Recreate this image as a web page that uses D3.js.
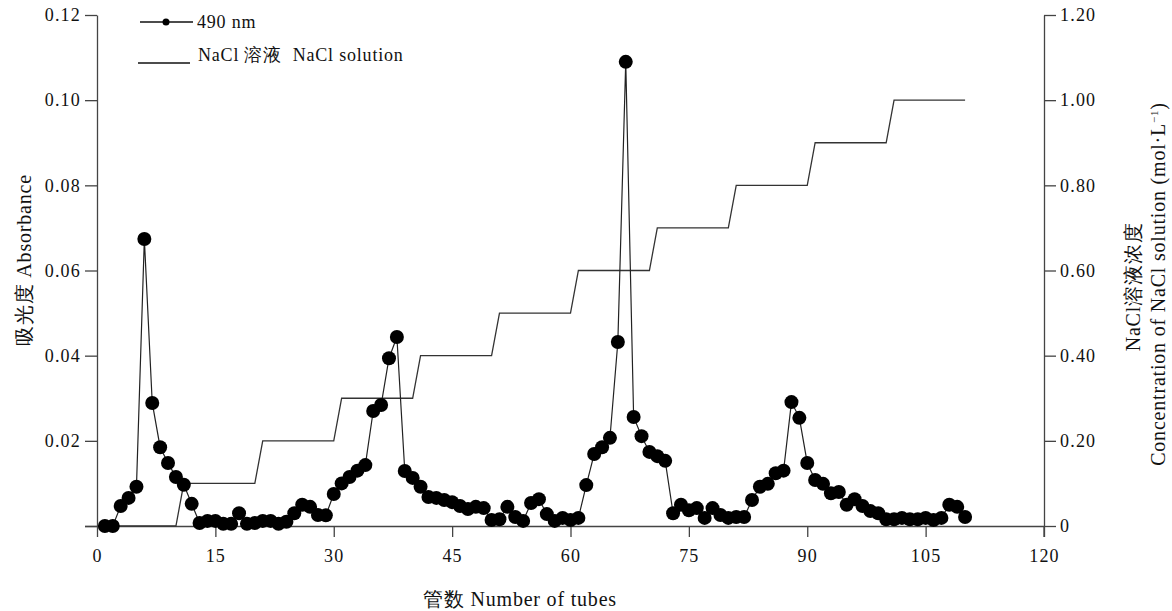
<!DOCTYPE html>
<html>
<head>
<meta charset="utf-8">
<script src="https://cdn.jsdelivr.net/npm/d3@7"></script>
<style>
  body { margin: 0; background: #fff; }
  svg { display: block; }
  svg text { font-family: "Liberation Serif", "Times New Roman", Times, "DejaVu Serif", serif; }
  .axis path, .axis line { stroke: #444; stroke-width: 1.3; }
  .axis text { font-size: 18px; fill: #111; letter-spacing: 1.2px; }
  .label { font-size: 20px; fill: #111; letter-spacing: 0.8px; }
</style>
</head>
<body>
<svg id="chart" width="1172" height="611"></svg>
<script>
// Absorbance at 490 nm, tubes 1..110
const tubes = d3.range(1, 111);
const absorbance = [
  0.0000, 0.0000, 0.0047, 0.0066, 0.0092, 0.0674, 0.0289, 0.0185, 0.0148, 0.0115,
  0.0097, 0.0052, 0.0007, 0.0012, 0.0012, 0.0005, 0.0005, 0.0030, 0.0005, 0.0007,
  0.0012, 0.0012, 0.0005, 0.0010, 0.0030, 0.0050, 0.0045, 0.0026, 0.0025, 0.0075,
  0.0100, 0.0115, 0.0130, 0.0143, 0.0270, 0.0284, 0.0394, 0.0444, 0.0129, 0.0113,
  0.0092, 0.0068, 0.0066, 0.0061, 0.0056, 0.0047, 0.0040, 0.0045, 0.0042, 0.0014,
  0.0016, 0.0045, 0.0021, 0.0012, 0.0054, 0.0063, 0.0028, 0.0012, 0.0019, 0.0014,
  0.0019, 0.0096, 0.0169, 0.0185, 0.0207, 0.0432, 0.1090, 0.0256, 0.0211, 0.0174,
  0.0164, 0.0153, 0.0030, 0.0050, 0.0037, 0.0042, 0.0019, 0.0042, 0.0026, 0.0019,
  0.0021, 0.0021, 0.0061, 0.0092, 0.0099, 0.0124, 0.0130, 0.0291, 0.0254, 0.0148,
  0.0108, 0.0099, 0.0077, 0.0080, 0.0050, 0.0063, 0.0047, 0.0035, 0.0030, 0.0016,
  0.0016, 0.0019, 0.0016, 0.0016, 0.0019, 0.0014, 0.0019, 0.0050, 0.0045, 0.0021
];

// NaCl gradient (step), tube number vs mol/L
const naclTubes = [1, 10, 11, 20, 21, 30, 31, 40, 41, 50, 51, 60, 61, 70, 71, 80, 81, 90, 91, 100, 101, 110];
const naclConc  = [0, 0, 0.1, 0.1, 0.2, 0.2, 0.3, 0.3, 0.4, 0.4, 0.5, 0.5, 0.6, 0.6, 0.7, 0.7, 0.8, 0.8, 0.9, 0.9, 1.0, 1.0];

const xTicks = [0, 15, 30, 45, 60, 75, 90, 105, 120];
const yLeftTicks = [0, 0.02, 0.04, 0.06, 0.08, 0.10, 0.12];
const yRightTicks = [0, 0.2, 0.4, 0.6, 0.8, 1.0, 1.2];

const svg = d3.select('#chart');
const plotLeft = 97, plotRight = 1044, plotTop = 15, plotBottom = 526;

const x = d3.scaleLinear().domain([0, 120]).range([plotLeft, plotRight]);
const y = d3.scaleLinear().domain([0, 0.12]).range([plotBottom, plotTop]);
const y2 = d3.scaleLinear().domain([0, 1.2]).range([plotBottom, plotTop]);

// axes
svg.append('g')
  .attr('class', 'axis')
  .attr('transform', `translate(0,${plotBottom})`)
  .call(d3.axisBottom(x).tickValues(xTicks).tickSize(11).tickSizeOuter(0).tickPadding(12))
  .call(g => g.select('.domain').attr('d', `M${plotLeft - 12},0.5H${plotRight}`));

svg.append('g')
  .attr('class', 'axis')
  .attr('transform', `translate(${plotLeft},0)`)
  .call(d3.axisLeft(y).tickValues(yLeftTicks).tickSize(12).tickSizeOuter(0).tickPadding(4)
    .tickFormat(d => d === 0 ? '' : d3.format('.2f')(d)));

svg.append('g')
  .attr('class', 'axis')
  .attr('transform', `translate(${plotRight},0)`)
  .call(d3.axisRight(y2).tickValues(yRightTicks).tickSize(12).tickSizeOuter(0).tickPadding(4)
    .tickFormat(d => d === 0 ? '0' : d3.format('.2f')(d)));

// tick at 120 going down from right axis
svg.append('line')
  .attr('x1', x(120)).attr('x2', x(120))
  .attr('y1', plotBottom).attr('y2', plotBottom + 11)
  .attr('stroke', '#444').attr('stroke-width', 1.3);

// NaCl step line
const naclData = naclTubes.map((t, i) => ({ t, c: naclConc[i] }));
svg.append('path')
  .datum(naclData)
  .attr('fill', 'none')
  .attr('stroke', '#333')
  .attr('stroke-width', 1.3)
  .attr('d', d3.line().x(d => x(d.t)).y(d => y2(d.c)));

// absorbance line + dots
const absData = tubes.map((t, i) => ({ t, v: absorbance[i] }));
svg.append('path')
  .datum(absData)
  .attr('fill', 'none')
  .attr('stroke', '#222')
  .attr('stroke-width', 1.2)
  .attr('d', d3.line().x(d => x(d.t)).y(d => y(d.v)));

svg.selectAll('.dot')
  .data(absData)
  .enter().append('circle')
  .attr('class', 'dot')
  .attr('cx', d => x(d.t))
  .attr('cy', d => y(d.v))
  .attr('r', 7)
  .attr('fill', '#000');

// legend
svg.append('line').attr('x1', 140).attr('x2', 193).attr('y1', 22).attr('y2', 22)
  .attr('stroke', '#111').attr('stroke-width', 1.5);
svg.append('circle').attr('cx', 166).attr('cy', 22).attr('r', 3.5).attr('fill', '#000');
svg.append('text').attr('class', 'label').attr('x', 197).attr('y', 28)
  .style('font-size', '18px').text('490 nm');

svg.append('line').attr('x1', 138).attr('x2', 190).attr('y1', 63).attr('y2', 63)
  .attr('stroke', '#111').attr('stroke-width', 1.5);
svg.append('text').attr('class', 'label').attr('x', 198).attr('y', 61)
  .style('font-size', '18px').attr('xml:space', 'preserve').text('NaCl 溶液  NaCl solution');

// axis titles
svg.append('text').attr('class', 'label')
  .attr('transform', 'translate(31,260) rotate(-90)')
  .attr('text-anchor', 'middle')
  .text('吸光度 Absorbance');

svg.append('text').attr('class', 'label')
  .attr('x', 520).attr('y', 606)
  .attr('text-anchor', 'middle')
  .text('管数 Number of tubes');

svg.append('text').attr('class', 'label')
  .attr('transform', 'translate(1140,287) rotate(-90)')
  .attr('text-anchor', 'middle')
  .text('NaCl溶液浓度');

const t2 = svg.append('text').attr('class', 'label')
  .attr('transform', 'translate(1165,284) rotate(-90)')
  .attr('text-anchor', 'middle');
t2.append('tspan').text('Concentration of NaCl solution (mol·L');
t2.append('tspan').attr('dy', -7).style('font-size', '11px').text('−1');
t2.append('tspan').attr('dy', 7).text(')');
</script>
</body>
</html>
